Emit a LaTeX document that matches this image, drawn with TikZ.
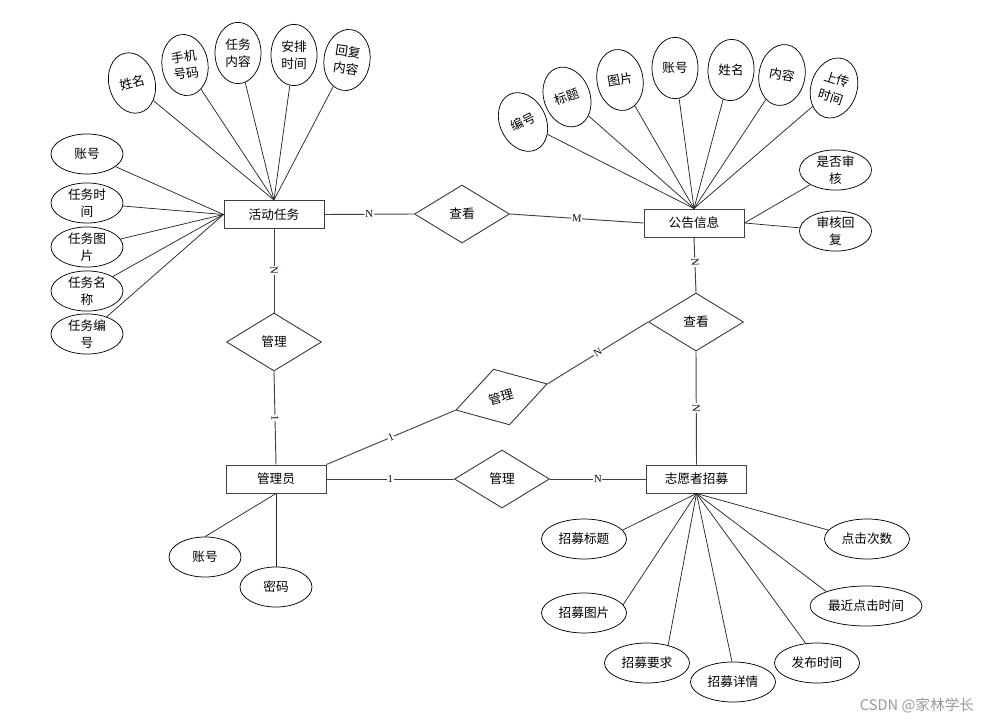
\documentclass[tikz,border=0pt]{standalone}
\usepackage{fontspec}
\newfontfamily\cjk{Noto Sans CJK SC}
\newfontfamily\lblf{Liberation Serif}
\usetikzlibrary{shapes.geometric}
\begin{document}
\begin{tikzpicture}[x=0.75pt,y=-0.75pt,
  every node/.style={font=\cjk\fontsize{9.5}{12.5}\selectfont},
  ent/.style={draw=black!75, line width=0.75pt, minimum width=75pt, minimum height=21pt, inner sep=0},
  rel/.style={diamond, draw=black!80, line width=0.65pt, minimum width=71.25pt, minimum height=43.5pt, inner sep=0},
  attr/.style={ellipse, draw=black, line width=0.55pt, inner sep=0, align=center},
  tall/.style={attr, minimum width=34.5pt, minimum height=46pt},
  wide/.style={attr, minimum width=54pt, minimum height=30pt},
  wider/.style={attr, minimum width=63.75pt, minimum height=30pt},
  conn/.style={draw=black!85, line width=0.55pt},
  rconn/.style={draw=black!75, line width=0.7pt},
  lbl/.style={font=\lblf\fontsize{8}{8}\selectfont, text=black!80!blue, fill=white, inner sep=0.5pt, sloped, midway}
]
\useasboundingbox (0,0) rectangle (1000,724);

% entities
\node[ent] (hd) at (274,214.5) {活动任务};
\node[ent] (gg) at (694,223) {公告信息};
\node[ent] (gly) at (276,479) {管理员};
\node[ent] (zy) at (696.5,479) {志愿者招募};

% relationships
\node[rel] (ck1) at (462,214) {查看};
\node[rel] (gl1) at (274,342) {管理};
\node[rel] (ck2) at (696,322) {查看};
\node[rel, rotate=16] (gl2) at (501.5,397) {管理};
\node[rel] (gl3) at (502,479) {管理};

\draw[rconn] (hd.east) -- node[lbl]{N} (ck1.west);
\draw[rconn] (ck1.east) -- node[lbl]{M} (gg.west);
\draw[rconn] (hd.south) -- node[lbl]{N} (gl1.north);
\draw[rconn] (gl1.south) -- node[lbl]{1} (gly.north);
\draw[rconn] (gg.south) -- node[lbl, pos=0.45]{N} (ck2.north);
\draw[rconn] (ck2.south) -- node[lbl]{N} (zy.north);
\draw[rconn] (gly.north east) -- node[lbl]{1} (gl2.west);
\draw[rconn] (gl2.east) -- node[lbl]{N} (ck2.west);
\draw[rconn] (gly.east) -- node[lbl]{1} (gl3.west);
\draw[rconn] (gl3.east) -- node[lbl]{N} (zy.west);

% attributes of 活动任务
\node[tall, rotate=15] (a1) at (132,83) {姓名};
\node[tall, rotate=8] (a2) at (185,65) {手机\\号码};
\node[tall] (a3) at (238,53) {任务\\内容};
\node[tall] (a4) at (294,55) {安排\\时间};
\node[tall, rotate=-8] (a5) at (347,60) {回复\\内容};
\node[wide] (c1) at (87,154) {账号};
\node[wide] (c2) at (87,203) {任务时\\间};
\node[wide] (c3) at (87,247) {任务图\\片};
\node[wide] (c4) at (87,291) {任务名\\称};
\node[wide] (c5) at (87,334) {任务编\\号};
\foreach \n in {a1,a2,a3,a4,a5} \draw[conn] (\n) -- (hd.north);
\foreach \n in {c1,c2,c3,c4,c5} \draw[conn] (\n) -- (hd.west);

% attributes of 公告信息
\node[tall, rotate=26] (b1) at (523,122) {编号};
\node[tall, rotate=20] (b2) at (567,97) {标题};
\node[tall, rotate=10] (b3) at (620,80) {图片};
\node[tall] (b4) at (675,68) {账号};
\node[tall, rotate=-3] (b5) at (731,70) {姓名};
\node[tall, rotate=-10] (b6) at (782,75) {内容};
\node[tall, rotate=-18, font=\cjk\fontsize{9.5}{13.5}\selectfont] (b7) at (834,88) {上传\\时间};
\node[wide] (b8) at (835.5,170) {是否审\\核};
\node[wide] (b9) at (835.5,231) {审核回\\复};
\foreach \n in {b1,b2,b3,b4,b5,b6,b7} \draw[conn] (\n) -- (gg.north);
\foreach \n in {b8,b9} \draw[conn] (\n) -- (gg.east);

% attributes of 管理员
\node[wide] (e1) at (205,557) {账号};
\node[wide] (e2) at (276,587) {密码};
\draw[conn] (e1.north) -- (gly.south);
\draw[conn] (e2.north) -- (gly.south);

% attributes of 志愿者招募
\node[wider] (d1) at (584,539) {招募标题};
\node[wider] (d2) at (584,613) {招募图片};
\node[wider] (d3) at (647,663) {招募要求};
\node[wider] (d4) at (733,682) {招募详情};
\node[wider] (d5) at (817,663) {发布时间};
\node[attr, minimum width=84pt, minimum height=30pt] (d6) at (866,606) {最近点击时间};
\node[wider] (d7) at (867,539) {点击次数};
\draw[conn] (d1.13) -- (zy.south);
\draw[conn] (d2.12) -- (zy.south);
\draw[conn] (d3.40) -- (zy.south);
\draw[conn] (d4.93) -- (zy.south);
\draw[conn] (d5.120) -- (zy.south);
\draw[conn] (d6.160) -- (zy.south);
\draw[conn] (d7.167) -- (zy.south);

% watermark
\node[font=\cjk\fontsize{11}{12}\selectfont, text=black!40] (wm) at (917,706) {CSDN @家林学长};
\end{tikzpicture}
\end{document}
